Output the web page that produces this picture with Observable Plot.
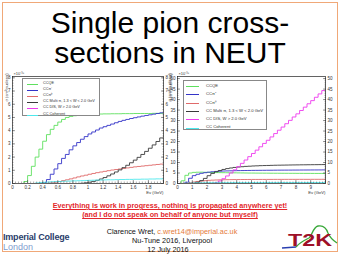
<!DOCTYPE html>
<html><head><meta charset="utf-8">
<script src="https://cdn.jsdelivr.net/npm/d3@7"></script>
<script src="https://cdn.jsdelivr.net/npm/@observablehq/plot@0.6"></script>
<style>
body{margin:0;background:#fff;}
#slide{position:relative;width:340px;height:255px;overflow:hidden;background:#fff;font-family:"Liberation Sans",Arial,sans-serif;}
#border{position:absolute;left:2px;top:2px;width:336px;height:250px;border:1px solid #f0a878;box-sizing:border-box;}
#title{position:absolute;left:0;top:8px;width:340px;text-align:center;font-size:30px;line-height:30px;color:#000;white-space:nowrap;}
.abs{position:absolute;}
.legend{position:absolute;border:0.8px solid #888;background:#fff;box-sizing:border-box;}
.lg-line{position:absolute;height:1.2px;}
.lg-text{position:absolute;color:#333;white-space:nowrap;line-height:1;}
.ctr{position:absolute;left:0;width:344px;text-align:center;white-space:nowrap;}
.warn{color:#e3262b;font-weight:bold;text-decoration:underline;font-size:7.2px;}
.info{color:#111;font-size:7.3px;}
</style></head>
<body>
<div id="slide">
  <div id="border"></div>
  <div id="title">Single pion cross-<br>sections in NEUT</div>
  <div id="left" class="abs" style="left:0;top:68px;"></div>
  <div id="right" class="abs" style="left:165px;top:68px;"></div>
  <div class="ctr warn" style="top:201px;left:-2px;">Everything is work in progress, nothing is propagated anywhere yet!</div>
  <div class="ctr warn" style="top:210px;left:-2px;">(and I do not speak on behalf of anyone but myself)</div>
  <div class="ctr info" style="top:227px;">Clarence Wret, <span style="color:#e57a3a">c.wret14@imperial.ac.uk</span></div>
  <div class="ctr info" style="top:236px;">Nu-Tune 2016, Liverpool</div>
  <div class="ctr info" style="top:245px;left:-4px;">12 July 2016</div>
  <div class="abs" style="left:3px;top:232px;font-size:9px;font-weight:bold;color:#2b3d6b;letter-spacing:-0.2px;white-space:nowrap;">Imperial College</div>
  <div class="abs" style="left:3px;top:242px;font-size:9px;color:#7f9dcf;white-space:nowrap;">London</div>
  <svg class="abs" style="left:0;top:0;" width="340" height="255">
    <path d="M282,248 L296,247" stroke="#2a3fb0" stroke-width="1.5" fill="none"/>
    <path d="M296,247 C300,242 305,240 309,238 C312,236 313,227 318,226 C323,225 326,227 328,233 C330,238 334,241 337,243" stroke="#3aa83a" stroke-width="1.3" fill="none"/>
    <text x="288" y="246" font-family="Liberation Sans, Arial" font-weight="bold" font-size="16" fill="#9e1028" textLength="44" lengthAdjust="spacingAndGlyphs">T2K</text>
  </svg>
</div>
<script>
// ---------- data (×10^-38 cm^2/nucleon) ----------
const seriesNames = ["CCQE", "CCπ⁺", "CCπ⁰", "CC Multi π, 1.3 < W < 2.0 GeV", "CC DIS, W > 2.0 GeV", "CC Coherent"];
const seriesColors = ["#5ee05e", "#3434c8", "#e06a6a", "#3a3a3a", "#ee3aee", "#4de8ec"];

// Left panel: E_nu bins of 0.05 GeV, 0 .. 2.0
const energyLeft = [0,0.05,0.1,0.15,0.2,0.25,0.3,0.35,0.4,0.45,0.5,0.55,0.6,0.65,0.7,0.75,0.8,0.85,0.9,0.95,1.0,1.05,1.1,1.15,1.2,1.25,1.3,1.35,1.4,1.45,1.5,1.55,1.6,1.65,1.7,1.75,1.8,1.85,1.9,1.95,2.0];
const ccqeLeft   = [0,0,0,0.15,0.6,1.3,2.0,2.6,3.2,3.7,4.1,4.4,4.65,4.85,5.0,5.08,5.13,5.17,5.2,5.22,5.24,5.25,5.26,5.26,5.27,5.27,5.28,5.28,5.28,5.29,5.29,5.29,5.3,5.3,5.3,5.3,5.3,5.31,5.31,5.31,5.31];
const ccpipLeft  = [0,0,0,0,0,0,0,0,0.05,0.3,0.7,1.1,1.5,1.9,2.2,2.55,2.85,3.1,3.35,3.55,3.75,3.9,4.05,4.2,4.3,4.4,4.5,4.6,4.7,4.78,4.85,4.92,4.98,5.04,5.1,5.15,5.2,5.25,5.3,5.35,5.4];
const ccpi0Left  = [0,0,0,0,0,0,0,0,0,0.02,0.05,0.1,0.15,0.22,0.28,0.35,0.42,0.5,0.57,0.63,0.7,0.76,0.82,0.87,0.92,0.97,1.02,1.06,1.1,1.14,1.18,1.22,1.26,1.29,1.32,1.35,1.38,1.41,1.44,1.47,1.5];
const multiLeft  = [0,0,0,0,0,0,0,0,0,0,0,0,0,0,0,0,0,0,0.02,0.05,0.1,0.16,0.24,0.34,0.45,0.58,0.72,0.87,1.03,1.2,1.38,1.57,1.77,1.98,2.2,2.43,2.67,2.92,3.18,3.45,3.72];
const disLeft    = [0,0,0,0,0,0,0,0,0,0,0,0,0,0,0,0,0,0,0,0,0,0,0,0,0,0,0,0,0,0,0,0,0,0,0,0,0,0,0,0,0];
const cohLeft    = [0,0,0,0,0,0,0.04,0.07,0.09,0.11,0.13,0.14,0.15,0.17,0.18,0.19,0.2,0.21,0.22,0.23,0.24,0.25,0.26,0.26,0.27,0.28,0.28,0.29,0.3,0.3,0.31,0.31,0.32,0.32,0.33,0.33,0.34,0.34,0.35,0.35,0.36];

// Right panel: E_nu bins of 0.25 GeV, 0 .. 10
const energyRight = [0,0.25,0.5,0.75,1,1.25,1.5,1.75,2,2.25,2.5,2.75,3,3.25,3.5,3.75,4,4.25,4.5,4.75,5,5.25,5.5,5.75,6,6.25,6.5,6.75,7,7.25,7.5,7.75,8,8.25,8.5,8.75,9,9.25,9.5,9.75,10];
const ccqeRight  = [0,1.3,3.9,5.0,5.3,5.38,5.4,5.35,5.3,5.25,5.2,5.18,5.15,5.13,5.1,5.08,5.05,5.03,5.0,4.98,4.97,4.95,4.94,4.93,4.92,4.9,4.89,4.88,4.87,4.86,4.85,4.85,4.84,4.83,4.82,4.82,4.81,4.8,4.8,4.79,4.79];
const ccpipRight = [0,0,0.6,2.5,3.75,4.4,4.85,5.15,5.4,5.6,5.75,5.85,5.95,6.0,6.05,6.1,6.15,6.18,6.2,6.22,6.25,6.27,6.28,6.3,6.32,6.33,6.35,6.36,6.37,6.38,6.39,6.4,6.41,6.42,6.43,6.44,6.45,6.46,6.47,6.48,6.49];
const ccpi0Right = [0,0,0.05,0.35,0.7,0.97,1.18,1.35,1.5,1.6,1.68,1.74,1.78,1.82,1.85,1.87,1.89,1.9,1.91,1.92,1.93,1.93,1.94,1.94,1.95,1.95,1.96,1.96,1.96,1.97,1.97,1.97,1.98,1.98,1.98,1.98,1.99,1.99,1.99,2.0,2.0];
const multiRight = [0,0,0,0,0.1,0.58,1.38,2.43,3.72,4.8,5.6,6.2,6.7,7.1,7.4,7.65,7.85,8.0,8.15,8.25,8.35,8.42,8.5,8.55,8.6,8.65,8.7,8.73,8.76,8.79,8.82,8.85,8.87,8.9,8.92,8.94,8.96,8.98,9.0,9.02,9.04];
const disRight   = [0,0,0,0,0,0,0,0,0,0,0.4,1.2,2.3,3.6,5.0,6.5,8.0,9.6,11.2,12.8,14.3,15.9,17.5,19.1,20.6,22.2,23.8,25.4,26.9,28.5,30.1,31.7,33.2,34.8,36.4,38.0,39.5,41.1,42.7,44.3,45.8];
const cohRight   = [0,0.02,0.12,0.19,0.24,0.28,0.31,0.33,0.36,0.37,0.38,0.39,0.39,0.4,0.4,0.41,0.41,0.41,0.42,0.42,0.42,0.42,0.43,0.43,0.43,0.43,0.43,0.44,0.44,0.44,0.44,0.44,0.44,0.45,0.45,0.45,0.45,0.45,0.45,0.45,0.45];

// tick labels
const xTickLabelsLeft = ["0","0.2","0.4","0.6","0.8","1","1.2","1.4","1.6","1.8"];
const yTickLabelsLeft = ["0","1","2","3","4","5","6","7","8"];
const xTickLabelsRight = ["0","1","2","3","4","5","6","7","8","9"];
const yTickLabelsRight = ["0","5","10","15","20","25","30","35","40","45","50"];

const yTitle = "σ (cm²/nucleon)";
const xTitle = "Eν (GeV)";
const exponent = "×10⁻³⁸";

function panel(cfg) {
  const marks = [];
  const fmtX = new Map(cfg.xLabels.map(s => [+s, s]));
  const fmtY = new Map(cfg.yLabels.map(s => [+s, s]));
  cfg.series.forEach((vals, k) => {
    const data = cfg.E.map((e, i) => ({E: e, v: vals[i]}));
    marks.push(Plot.line(data, {x: "E", y: "v", stroke: seriesColors[k], strokeWidth: 0.9, curve: "step-after", clip: true}));
  });
  marks.push(Plot.frame({stroke: "#222", strokeWidth: 0.7}));
  // inward ticks
  marks.push(Plot.axisX({ticks: cfg.xMajor, tickSize: 3, dy: -3, tickFormat: () => "", label: null, strokeWidth: 0.5}));
  marks.push(Plot.axisX({ticks: cfg.xMinor, tickSize: 1.5, dy: -1.5, tickFormat: () => "", label: null, strokeWidth: 0.4}));
  marks.push(Plot.axisY({ticks: cfg.yMajor, tickSize: 3, dx: 3, tickFormat: () => "", label: null, strokeWidth: 0.5}));
  marks.push(Plot.axisY({ticks: cfg.yMinor, tickSize: 1.5, dx: 1.5, tickFormat: () => "", label: null, strokeWidth: 0.4}));
  marks.push(Plot.axisY({anchor: "right", ticks: cfg.yMajor, tickSize: 3, dx: -3, tickFormat: () => "", label: null, strokeWidth: 0.5}));
  marks.push(Plot.axisY({anchor: "right", ticks: cfg.yMinor, tickSize: 1.5, dx: -1.5, tickFormat: () => "", label: null, strokeWidth: 0.4}));
  // labels
  marks.push(Plot.axisX({ticks: cfg.xLabels.map(Number), tickSize: 0, tickPadding: 2, tickFormat: d => fmtX.get(d), label: null, fontSize: 4.5}));
  marks.push(Plot.axisY({ticks: cfg.yLabels.map(Number), tickSize: 0, tickPadding: 2, tickFormat: d => fmtY.get(d), label: null, fontSize: 4.5}));
  marks.push(Plot.axisY({anchor: "right", ticks: cfg.yLabels.map(Number), tickSize: 0, tickPadding: 2, tickFormat: d => fmtY.get(d), label: null, fontSize: 4.5}));
  marks.push(Plot.text([xTitle], {frameAnchor: "bottom-right", text: d => d, dy: 10.5, textAnchor: "end", fontSize: 4.2}));
  marks.push(Plot.text([exponent], {frameAnchor: "top-left", text: d => d, dy: -4, dx: 1, textAnchor: "start", fontSize: 4}));
  marks.push(Plot.text([yTitle], {frameAnchor: "top-left", text: d => d, rotate: -90, dx: -cfg.titleDx, dy: -3, textAnchor: "end", fontSize: 4}));
  if (cfg.rightTitle) marks.push(Plot.text([yTitle], {frameAnchor: "top-right", text: d => d, rotate: -90, dx: cfg.rightTitle, dy: -3, textAnchor: "end", fontSize: 4}));
  return Plot.plot({
    width: cfg.width, height: 125,
    marginLeft: cfg.ml, marginRight: cfg.mr, marginTop: 8, marginBottom: 10,
    x: {domain: cfg.xDomain},
    y: {domain: cfg.yDomain},
    style: {fontFamily: "Liberation Sans, Arial, sans-serif", color: "#333", background: "transparent", overflow: "visible"},
    marks
  });
}

document.getElementById("left").appendChild(panel({
  width: 170, ml: 12, mr: 7, xDomain: [0, 2], yDomain: [0, 8.1],
  E: energyLeft,
  series: [ccqeLeft, ccpipLeft, ccpi0Left, multiLeft, disLeft, cohLeft],
  xLabels: xTickLabelsLeft, yLabels: yTickLabelsLeft,
  xMajor: d3.range(0, 2.001, 0.2), xMinor: d3.range(0, 2.001, 0.04),
  yMajor: d3.range(0, 8.01, 1), yMinor: d3.range(0, 8.01, 0.2),
  titleDx: 7, rightTitle: 4.5
}));
document.getElementById("right").appendChild(panel({
  width: 175, ml: 12, mr: 15, xDomain: [0, 10], yDomain: [0, 51],
  E: energyRight,
  series: [ccqeRight, ccpipRight, ccpi0Right, multiRight, disRight, cohRight],
  xLabels: xTickLabelsRight, yLabels: yTickLabelsRight,
  xMajor: d3.range(0, 10.01, 1), xMinor: d3.range(0, 10.01, 0.2),
  yMajor: d3.range(0, 50.01, 5), yMinor: d3.range(0, 50.01, 1),
  titleDx: 8, rightTitle: null
}));

// legends (HTML overlays)
function legend(cfg) {
  const box = document.createElement("div");
  box.className = "legend";
  Object.assign(box.style, {left: cfg.x + "px", top: cfg.y + "px", width: cfg.w + "px", height: cfg.h + "px"});
  seriesNames.forEach((name, i) => {
    const ln = document.createElement("div");
    ln.className = "lg-line";
    Object.assign(ln.style, {left: cfg.lx + "px", width: cfg.lw + "px", top: (cfg.y0 + i * cfg.dy) + "px", background: seriesColors[i]});
    const tx = document.createElement("div");
    tx.className = "lg-text";
    tx.textContent = name;
    Object.assign(tx.style, {left: cfg.tx + "px", top: (cfg.y0 + i * cfg.dy - cfg.fs / 2) + "px", fontSize: cfg.fs + "px"});
    box.appendChild(ln); box.appendChild(tx);
  });
  document.getElementById("slide").appendChild(box);
}
legend({x: 22, y: 78, w: 78, h: 38, lx: 4, lw: 11, tx: 20, y0: 4.5, dy: 6.2, fs: 3.8});
legend({x: 183, y: 80, w: 84, h: 50, lx: 2, lw: 13, tx: 22, y0: 5, dy: 8.3, fs: 4.2});
</script>
</body></html>
